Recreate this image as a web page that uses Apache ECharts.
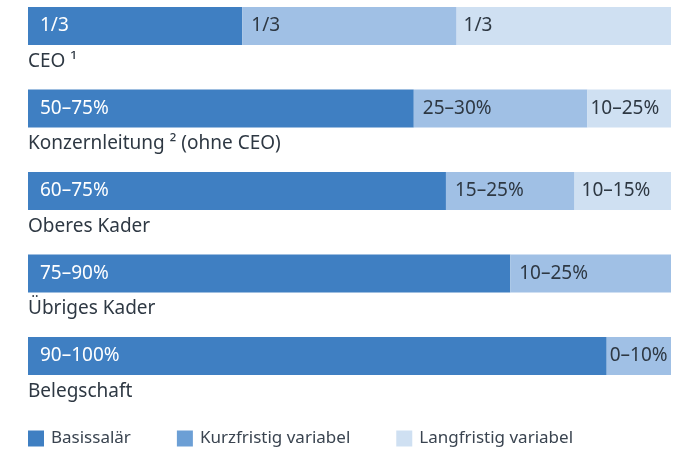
<!DOCTYPE html>
<html>
<head>
<meta charset="utf-8">
<style>
  html, body { margin: 0; padding: 0; background: #fff; }
  #chart { width: 684px; height: 451px; }
</style>
<script src="https://cdn.jsdelivr.net/npm/echarts@6/dist/echarts.min.js"></script>
</head>
<body>
<div id="chart"></div>
<script>
// Gruppen (oben nach unten)
var groups = ['CEO ¹', 'Konzernleitung ² (ohne CEO)', 'Oberes Kader', 'Übriges Kader', 'Belegschaft'];

// Anteile in %
var basis = [33.33, 60, 65, 75, 90];
var kurz = [33.33, 27, 20, 25, 10];
var lang = [33.34, 13, 15, 0, 0];

// Beschriftungen in den Balken
var basisText = ['1/3', '50–75%', '60–75%', '75–90%', '90–100%'];
var kurzText = ['1/3', '25–30%', '15–25%', '10–25%', '0–10%'];
var langText = ['1/3', '10–25%', '10–15%', '', ''];

var FONT = '"Noto Sans", "Open Sans", sans-serif';
var dark = '#2e3843';

function bar(name, values, texts, color, textColor, dist) {
  return {
    name: name,
    type: 'bar',
    stack: 'total',
    barWidth: 38,
    clip: false,
    itemStyle: { color: color },
    label: {
      show: true,
      position: 'insideLeft',
      distance: dist,
      color: textColor,
      fontFamily: FONT,
      fontSize: 19,
      formatter: function(p) { return texts[p.dataIndex]; }
    },
    emphasis: { disabled: true },
    data: values.map(function(v, i) {
      // schmale Segmente: Text näher an den Rand
      var d = v < 14 ? { label: { distance: 3 } } : {};
      d.value = v;
      return d;
    })
  };
}

var chart = echarts.init(document.getElementById('chart'));
chart.setOption({
  animation: false,
  grid: { left: 28, right: 13, top: 26, bottom: 95 },
  xAxis: { type: 'value', min: 0, max: 100, show: false },
  yAxis: {
    type: 'category',
    inverse: true,
    boundaryGap: false,
    data: groups,
    axisLine: { show: false },
    axisTick: { show: false },
    splitLine: { show: false },
    axisLabel: {
      inside: true,
      margin: 0,
      align: 'left',
      verticalAlign: 'top',
      padding: [26, 0, 0, 0],
      color: dark,
      fontFamily: FONT,
      fontSize: 19
    }
  },
  legend: {
    left: 28,
    top: 430,
    padding: 0,
    icon: 'rect',
    itemWidth: 16,
    itemHeight: 16,
    itemGap: 46,
    selectedMode: false,
    textStyle: { color: '#3a4450', fontFamily: FONT, fontSize: 17, padding: [0, 0, 0, 2] },
    data: [
      { name: 'Basissalär', itemStyle: { color: '#3f7fc2' } },
      { name: 'Kurzfristig variabel', itemStyle: { color: '#6c9fd5' } },
      { name: 'Langfristig variabel', itemStyle: { color: '#cfe0f2' } }
    ]
  },
  series: [
    bar('Basissalär', basis, basisText, '#3f7fc2', '#ffffff', 12),
    bar('Kurzfristig variabel', kurz, kurzText, '#a0c0e5', dark, 9),
    bar('Langfristig variabel', lang, langText, '#cfe0f2', dark, 7)
  ]
});
</script>
</body>
</html>
